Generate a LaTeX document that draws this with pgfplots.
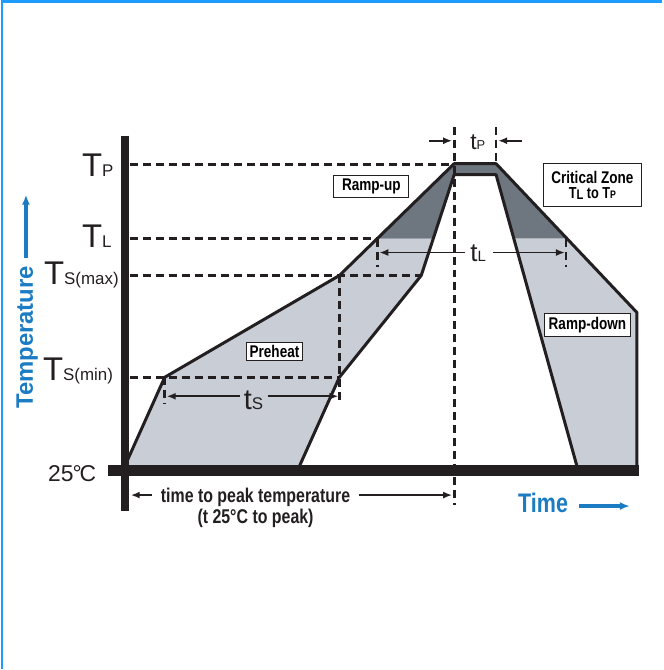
\documentclass[border=0pt]{standalone}
\usepackage{pgfplots}
\pgfplotsset{compat=1.18}
\usepackage{fontspec}
\setmainfont{Liberation Sans}
\newfontfamily\condbf[FakeStretch=0.8]{Liberation Sans Bold}
\newfontfamily\sansbf{Liberation Sans Bold}
\usetikzlibrary{arrows.meta}

\definecolor{ink}{HTML}{231F20}
\definecolor{lightfill}{HTML}{C9CED6}
\definecolor{darkfill}{HTML}{6E7780}
\definecolor{tblue}{HTML}{1B7BC3}
\definecolor{frame}{HTML}{1E9BFF}

\newcommand{\fs}[1]{\fontsize{#1}{#1}\selectfont}

\tikzset{
    dashed line/.style={ink, line width=2.8bp, dash pattern=on 8bp off 5bp},
    dim arrow/.style={ink, line width=1.8bp, -{Latex[length=9bp,width=7bp]}},
    box/.style={draw=ink, line width=1bp, fill=white, inner sep=0pt, font=\condbf\fs{17}},
}

\begin{document}
\begin{tikzpicture}
\begin{axis}[
    width=663bp, height=670bp, scale only axis,
    xmin=0, xmax=663, ymin=0, ymax=670, y dir=reverse,
    hide axis, clip=false,
]
\path (axis cs:0,0) rectangle (axis cs:663,670);

% frame (left and top edges)
\addplot[frame, line width=2.5bp] coordinates {(2,670) (2,1.5) (663,1.5)};

% filled zones
\addplot[fill=lightfill, draw=none] coordinates {(125,467) (165,378) (340,276) (378,239) (434,239) (422,276) (340,378) (300,467)} -- cycle;
\addplot[fill=darkfill, draw=none] coordinates {(378,239) (455,164) (497,164) (568,239) (515,239) (497,175) (455,175) (434,239)} -- cycle;
\addplot[fill=lightfill, draw=none] coordinates {(568,239) (638,313) (638,467) (578,467) (515,239)} -- cycle;

% dashed reference lines
\addplot[dashed line] coordinates {(130,165) (455,165)};
\addplot[dashed line] coordinates {(130,239) (378,239)};
\addplot[dashed line] coordinates {(130,276) (422,276)};
\addplot[dashed line] coordinates {(130,378) (340,378)};
\addplot[dashed line] coordinates {(455,127) (455,506)};
\addplot[dashed line] coordinates {(497,127) (497,164)};
\addplot[dashed line] coordinates {(378,239) (378,267)};
\addplot[dashed line] coordinates {(567,239) (567,267)};
\addplot[dashed line] coordinates {(340,276) (340,405)};
\addplot[dashed line] coordinates {(165,378) (165,405)};

% profile outlines
\addplot[ink, line width=3bp, line join=round] coordinates {(125,467) (165,378) (340,276) (455,164) (497,164) (638,313) (638,470)};
\addplot[ink, line width=3bp, line join=round] coordinates {(300,467) (340,378) (422,276) (455,175) (497,175) (578,467)};

% axes
\addplot[ink, line width=8bp] coordinates {(125,136) (125,512)};
\addplot[ink, line width=11bp] coordinates {(108,471) (640,471)};

% dimension arrows
\addplot[dim arrow] coordinates {(240,397) (167,397)};
\addplot[dim arrow] coordinates {(268,397) (339,397)};
\addplot[dim arrow] coordinates {(466,253) (380,253)};
\addplot[dim arrow] coordinates {(494,253) (566,253)};
\addplot[dim arrow] coordinates {(430,141) (453,141)};
\addplot[dim arrow] coordinates {(523,141) (499,141)};
\addplot[dim arrow] coordinates {(152,496) (131,496)};
\addplot[dim arrow] coordinates {(360,496) (453,496)};

% axis direction arrows
\addplot[tblue, line width=3.5bp, -{Latex[length=10bp,width=8bp]}] coordinates {(26,258) (26,195)};
\addplot[tblue, line width=3.5bp, -{Latex[length=10bp,width=8bp]}] coordinates {(580,507) (631,507)};

% level labels
\node[anchor=base west, inner sep=0pt, text=ink] at (axis cs:82,177) {\fs{33}T\fs{17}P};
\node[anchor=base west, inner sep=0pt, text=ink] at (axis cs:82,248) {\fs{33}T\fs{17}L};
\node[anchor=base west, inner sep=0pt, text=ink] at (axis cs:44,285) {\fs{33}T\fs{17}S(max)};
\node[anchor=base west, inner sep=0pt, text=ink] at (axis cs:43,381) {\fs{33}T\fs{17}S(min)};
\node[anchor=base west, inner sep=0pt, text=ink] at (axis cs:48,482) {\fs{23}25\kern-1pt°\kern-2ptC};

% time labels
\node[anchor=base west, inner sep=0pt, text=ink] at (axis cs:244,410) {\fs{29}t\fs{17}S};
\node[anchor=base west, inner sep=0pt, text=ink] at (axis cs:471,262) {\fs{26}t\fs{15}L};
\node[anchor=base west, inner sep=0pt, text=ink] at (axis cs:471,150) {\fs{23}t\fs{13}P};
\node[anchor=base, inner sep=0pt, text=ink] at (axis cs:256,503.5) {\condbf\fs{20}time to peak temperature};
\node[anchor=base, inner sep=0pt, text=ink] at (axis cs:256,524) {\condbf\fs{20}(t 25°C to peak)};

% axis titles
\node[anchor=base west, inner sep=0pt, text=tblue] at (axis cs:519,513) {\condbf\fs{27}Time};
\node[anchor=base, inner sep=0pt, text=tblue, rotate=90] at (axis cs:33,338) {\sansbf\fs{24}Temperature};

% zone boxes
\node[box, minimum width=75bp, minimum height=22bp] at (axis cs:372,187) {Ramp-up};
\node[box, minimum width=99bp, minimum height=43bp] at (axis cs:593.5,185.5) {};
\node[inner sep=0pt, font=\condbf\fs{17}] at (axis cs:593.5,177.5) {Critical Zone};
\node[inner sep=0pt, font=\condbf\fs{16}] at (axis cs:593.5,194) {T\raisebox{-1bp}{\fs{14}L} to T{\fs{11}P}};
\node[box, minimum width=87bp, minimum height=23bp] at (axis cs:588.5,325.5) {Ramp-down};
\node[box, minimum width=56bp, minimum height=18bp] at (axis cs:275,352) {Preheat};

\end{axis}
\end{tikzpicture}
\end{document}
